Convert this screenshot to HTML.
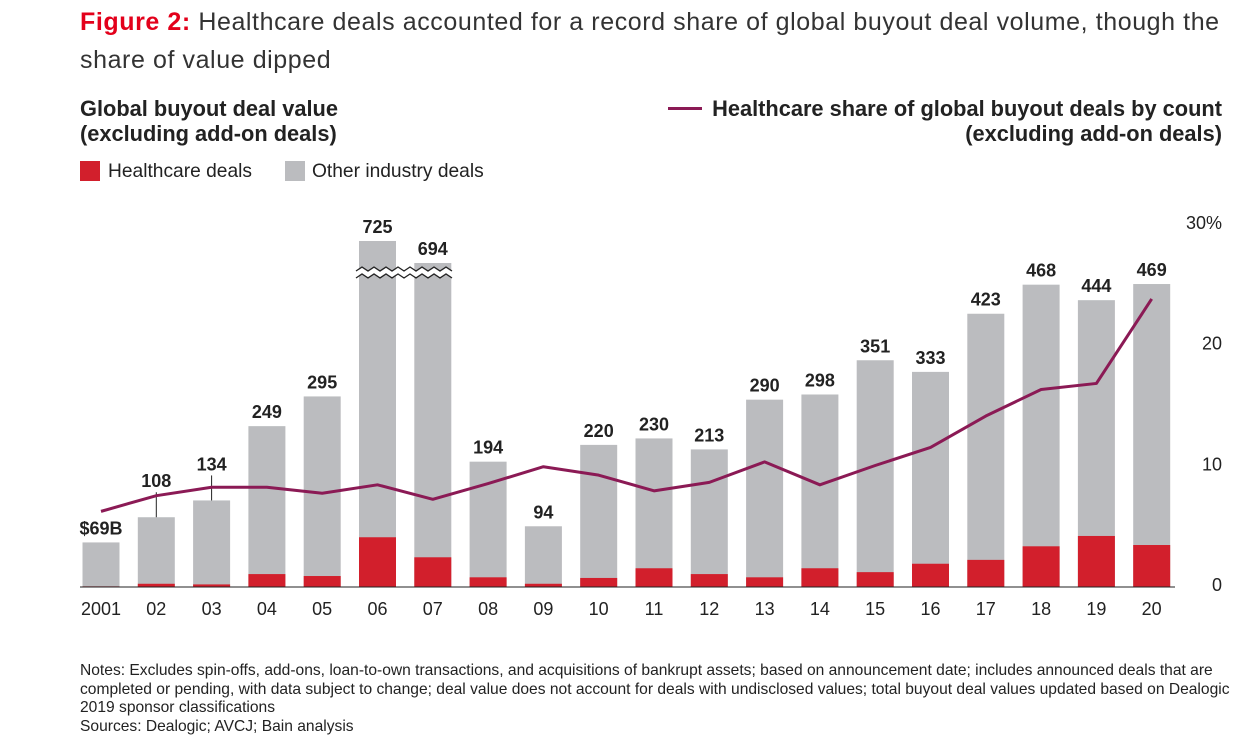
<!DOCTYPE html>
<html><head><meta charset="utf-8"><style>
body{margin:0;background:#fff;font-family:"Liberation Sans",sans-serif;}
#wrap{position:relative;width:1255px;height:746px;overflow:hidden;}
.t{position:absolute;white-space:nowrap;}
</style></head><body>
<div id="wrap">
<div class="t" style="left:80px;top:3px;font-size:25px;letter-spacing:0.58px;line-height:38px;color:#333;"><span style="color:#e3001b;font-weight:bold;">Figure 2:</span> Healthcare deals accounted for a record share of global buyout deal volume, though the<br>share of value dipped</div>
<div class="t" style="left:80px;top:96px;font-size:21.8px;font-weight:bold;line-height:25px;color:#222;">Global buyout deal value<br>(excluding add-on deals)</div>
<div class="t" style="right:33px;top:96px;font-size:21.8px;font-weight:bold;line-height:25px;color:#222;text-align:right;"><span style="display:inline-block;width:34px;height:3px;background:#8b1a55;vertical-align:middle;margin-right:10px;position:relative;top:-2px;"></span>Healthcare share of global buyout deals by count<br>(excluding add-on deals)</div>
<div class="t" style="left:80px;top:161px;font-size:19.2px;color:#222;"><span style="display:inline-block;width:20px;height:20px;background:#d21f2c;vertical-align:-4px;margin-right:8px;"></span>Healthcare deals</div>
<div class="t" style="left:285px;top:161px;font-size:19.2px;color:#222;"><span style="display:inline-block;width:20px;height:20px;background:#bbbcbf;vertical-align:-4px;margin-right:7px;"></span>Other industry deals</div>
<svg id="svg" width="1255" height="746" style="position:absolute;left:0;top:0;"></svg>
<div class="t" style="left:80px;top:662px;font-size:15.6px;line-height:18.5px;color:#222;">Notes: Excludes spin-offs, add-ons, loan-to-own transactions, and acquisitions of bankrupt assets; based on announcement date; includes announced deals that are<br>completed or pending, with data subject to change; deal value does not account for deals with undisclosed values; total buyout deal values updated based on Dealogic<br>2019 sponsor classifications<br>Sources: Dealogic; AVCJ; Bain analysis</div>
</div>
<script>
const years=["2001","02","03","04","05","06","07","08","09","10","11","12","13","14","15","16","17","18","19","20"];
const totalValues=[69,108,134,249,295,725,694,194,94,220,230,213,290,298,351,333,423,468,444,469];
const healthcareValues=[1,5,4,20,17,77,46,15,5,14,29,20,15,29,23,36,42,63,79,65];
const sharePct=[6.1,7.4,8.1,8.1,7.6,8.3,7.1,8.4,9.8,9.1,7.8,8.5,10.2,8.3,9.9,11.4,14,16.2,16.7,23.7];
const rightTicks=[0,10,20,30];
const rightTickLabels=["0","10","20","30%"];
const svg=document.getElementById('svg');const NS='http://www.w3.org/2000/svg';
function mk(t,a,p){const e=document.createElementNS(NS,t);for(const k in a)e.setAttribute(k,a[k]);(p||svg).appendChild(e);return e;}
const base=587,x0=101,step=55.3,bw=37;
function xS(i){return x0+i*step;}
function yS(v){if(v>500)return 263-(v-694)*0.71;return base-v*0.646;}
function yR(p){return 585-p*12.07;}
years.forEach((y,i)=>{
 const cx=xS(i);
 const bo=mk('rect',{x:cx-bw/2,y:yS(totalValues[i]),width:bw,height:base-yS(totalValues[i]),fill:'#bbbcbf'});
 
 const hv=mk('rect',{x:cx-bw/2,y:yS(healthcareValues[i]),width:bw,height:base-yS(healthcareValues[i]),fill:'#d21f2c'});
 
 let ly=yS(totalValues[i])-8;
 if(i==1||i==2)ly-=22;
 const lab=mk('text',{x:cx,y:ly,'text-anchor':'middle','font-size':18,'font-weight':'bold',fill:'#222'});
 lab.textContent=(i==0?'$'+totalValues[i]+'B':totalValues[i]);
 
 if(i==1||i==2){const l=mk('line',{x1:cx,x2:cx,y1:ly+5,y2:yS(totalValues[i]),stroke:'#222','stroke-width':1});
 }
 const xl=mk('text',{x:cx,y:615,'text-anchor':'middle','font-size':18,fill:'#222'});xl.textContent=y;
 
});
const bx1=xS(5)-bw/2-3,bx2=xS(6)+bw/2+3;
let d1='',d2='';for(let x=bx1,k=0;x<=bx2;x+=6,k++){const o=(k%2?-2:2);d1+=(k?'L':'M')+x+','+(269+o);d2+=(k?'L':'M')+x+','+(276+o);}
const bp=mk('path',{d:d1+' '+d2,fill:'none',stroke:'#222','stroke-width':1.3});
const poly=mk('polygon',{points:'',fill:'#fff'});
let pts=[];for(let x=bx1,k=0;x<=bx2;x+=6,k++)pts.push(x+','+(269+(k%2?-2:2)+1));for(let x=bx2-((bx2-bx1)%6),k=Math.floor((bx2-bx1)/6);k>=0;x-=6,k--)pts.push(x+','+(276+(k%2?-2:2)-1));
poly.setAttribute('points',pts.join(' '));svg.insertBefore(poly,bp);


const ax=mk('line',{x1:80,x2:1175,y1:base,y2:base,stroke:'#222','stroke-width':1});

rightTicks.forEach((t,i)=>{const tx=mk('text',{x:1222,y:yR(t)+6,'text-anchor':'end','font-size':18,fill:'#222'});tx.textContent=rightTickLabels[i];
});
const ln=mk('polyline',{points:sharePct.map((p,i)=>xS(i)+','+yR(p)).join(' '),fill:'none',stroke:'#8b1a55','stroke-width':3,'stroke-linejoin':'round'});

</script>
</body></html>
